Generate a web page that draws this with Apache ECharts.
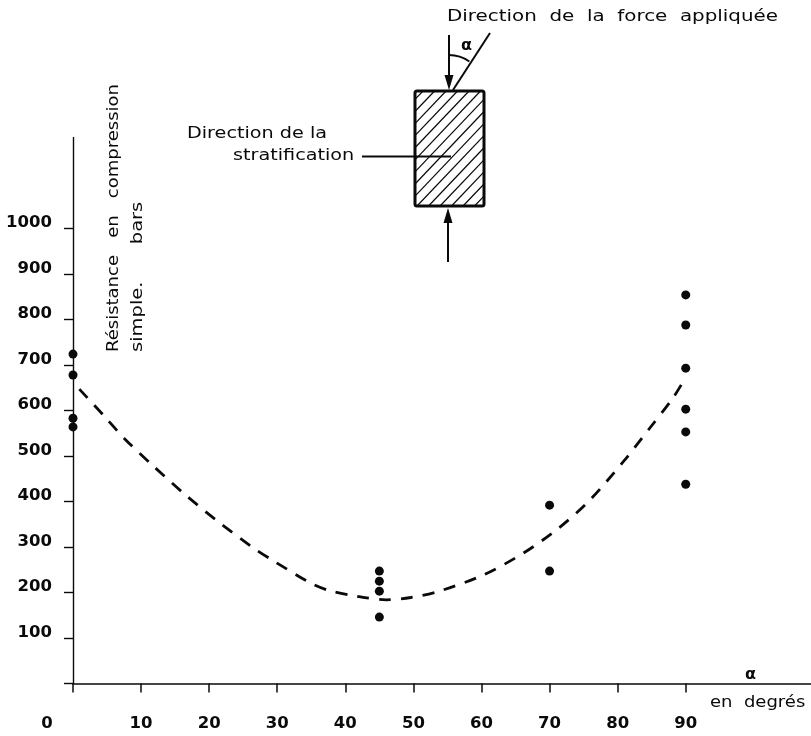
<!DOCTYPE html>
<html><head><meta charset="utf-8">
<style>html,body{margin:0;padding:0;background:#fff}#c{width:811px;height:736px}</style>
<script src="https://cdn.jsdelivr.net/npm/echarts@6/dist/echarts.min.js"></script>
</head><body><div id="c"></div>
<script>
const xTicks = [0,10,20,30,40,50,60,70,80,90];
const yTicks = [0,100,200,300,400,500,600,700,800,900,1000];
const measured = [[0,724],[0,678],[0,583],[0,564],[45,247],[45,225],[45,203],[45,146],[70,392],[70,247],[90,854],[90,788],[90,693],[90,603],[90,553],[90,438]];
const trend = [[0.93,647],[4.45,590],[7.64,537],[11.8,478],[16.4,416],[21.3,356],[26.4,299],[29.4,270],[35,220],[37.7,204],[41.9,191],[46,184],[49.6,189],[53.6,202],[60.2,238],[66.1,286],[71.3,341],[75.9,403],[80.8,487],[84.7,561],[88.1,627],[89.6,663]];
const F = '"DejaVu Sans"';
const ink = '#0a0a0a';

function txt(x,y,s,sx,o){return Object.assign({type:'text',x,y,scaleX:sx||1,style:{text:s,font:'15px "DejaVu Sans"',fill:ink,textVerticalAlign:'middle'}},o||{});}
function ln(x1,y1,x2,y2,w){return {type:'line',shape:{x1,y1,x2,y2},style:{stroke:ink,lineWidth:w||1.5}};}
function tri(p){return {type:'polygon',shape:{points:p},style:{fill:ink}};}
const L=415,R=484,Tp=91,B=206,slope=1.05,step=11.5;
const hatch=[];
for(let c=L+step*0.7;c<R+(B-Tp)/slope;c+=step){
  let x1=c,y1=Tp,x2=c-(B-Tp)/slope,y2=B;
  if(x1>R){y1=Tp+(x1-R)*slope;x1=R;}
  if(x2<L){y2=B-(L-x2)*slope;x2=L;}
  hatch.push(ln(x1,y1,x2,y2,1.2));
}
const boldA={font:'bold 16px "DejaVu Sans"',fill:ink,textVerticalAlign:'middle'};
const graphic=[
  ...hatch,
  {type:'rect',shape:{x:L,y:Tp,width:R-L,height:B-Tp,r:2},style:{fill:'none',stroke:ink,lineWidth:3}},
  ln(449,35,449,80,2), tri([[444.5,75],[453.5,75],[449,90]]),
  ln(453,90,490,33,2),
  {type:'arc',shape:{cx:449,cy:90,r:35,startAngle:-Math.PI/2,endAngle:-Math.PI/2+0.62},style:{stroke:ink,fill:'none',lineWidth:2}},
  ln(448,262,448,218,2), tri([[443.5,223],[452.5,223],[448,208]]),
  ln(362,156.5,451,156.5,2),
  {type:'text',x:461,y:46,style:Object.assign({text:'α'},boldA)},
  txt(447,17,'Direction  de  la  force  appliquée',1.325),
  txt(187,134,'Direction de la',1.28),
  txt(233,156,'stratification',1.28),
  txt(114.5,352,'Résistance   en   compression',1.2,{rotation:Math.PI/2}),
  txt(138,352,'simple.      bars',1.3,{rotation:Math.PI/2}),
  {type:'text',x:745,y:675,style:Object.assign({text:'α'},boldA)},
  txt(710,703,'en  degrés',1.2)
];
const chart=echarts.init(document.getElementById('c'));
const bold={fontFamily:F,fontWeight:'bold',fontSize:16.5,color:ink};
chart.setOption({
  animation:false,
  backgroundColor:'#fff',
  grid:{left:73,top:137.5,width:738.2,height:546},
  xAxis:{type:'value',min:0,max:108.4,splitLine:{show:false},
    axisLine:{lineStyle:{color:ink,width:1.6},onZero:false},
    axisTick:{customValues:xTicks,length:9,lineStyle:{color:ink,width:1.5}},
    axisLabel:Object.assign({customValues:xTicks,margin:32,showMinLabel:true,
      formatter:v=>v===0?'{z|0}':String(v),
      rich:{z:Object.assign({padding:[0,52,0,0]},bold)}},bold)},
  yAxis:{type:'value',min:0,max:1200,splitLine:{show:false},
    axisLine:{lineStyle:{color:ink,width:1.4},onZero:false},
    axisTick:{customValues:yTicks,length:9,lineStyle:{color:ink,width:1.4}},
    axisLabel:Object.assign({customValues:yTicks.slice(1),margin:21,verticalAlign:'bottom',lineHeight:11,formatter:v=>String(v)},bold)},
  series:[
    {type:'line',data:trend,smooth:0.3,symbol:'none',clip:false,lineStyle:{color:ink,width:2.8,type:[12,10]}},
    {type:'scatter',data:measured,symbolSize:9,clip:false,itemStyle:{color:ink,opacity:1}}
  ],
  graphic:{elements:graphic}
});
</script></body></html>
